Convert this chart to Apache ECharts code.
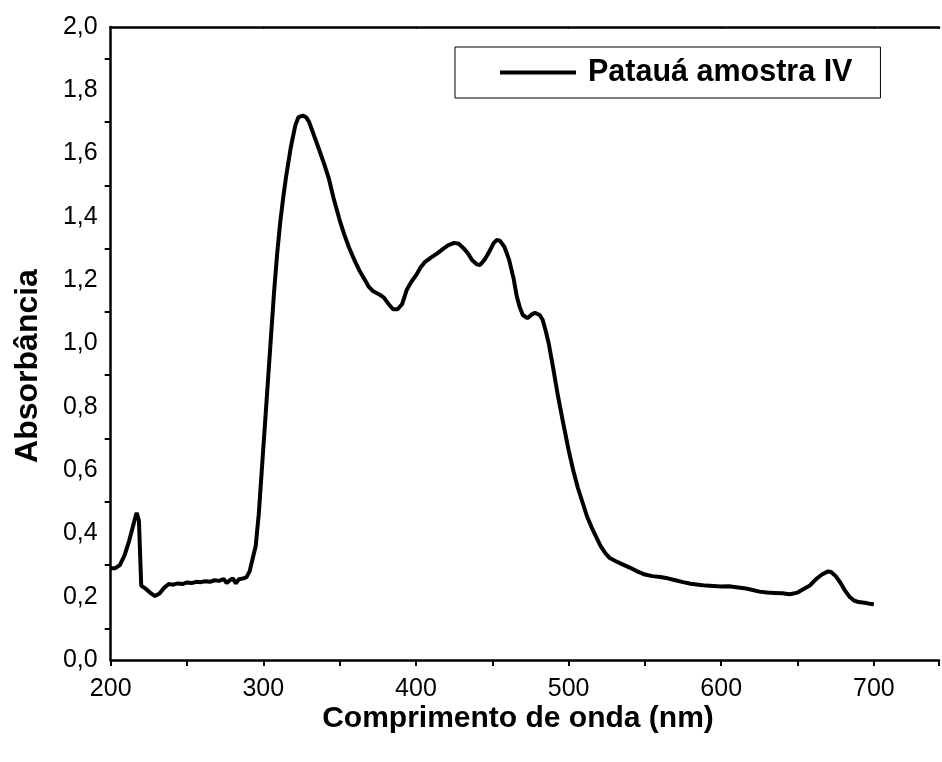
<!DOCTYPE html>
<html><head><meta charset="utf-8">
<script src="https://cdn.jsdelivr.net/npm/echarts@6/dist/echarts.min.js"></script>
<style>html,body{margin:0;padding:0;background:#fff}#c{width:942px;height:762px}</style>
</head><body><div id="c"></div>
<script>
const seriesName = 'Patauá amostra IV';
const xTitle = 'Comprimento de onda (nm)';
const yTitle = 'Absorbância';
const wavelength = [200,203,206,209,212,215,217,218.5,220,223,226,229,232,235,238,241,244,247,250,253,256,259,262,265,268,271,274,276,278,280,282,284,287,289,291,293,295,297,299,301,303,305,307,309,311,313,315,318,321,323,326,328,330,333,336,340,343,346,350,353,356,360,363,366,369,372,376,379,382,385,388,391,394,397,400,403,406,410,414,418,421,425,428,431,434,437,440,442,445,448,451,453,455,458,461,464,466,468,470,473,476,478,481,483,485,487,490,493,496,500,503,506,509,512,515,518,521,524,527,531,535,540,545,550,555,560,565,570,575,580,585,590,595,600,605,610,615,620,625,630,635,640,645,650,654,658,662,666,670,672,675,678,681,684,687,690,694,697,700];
const absorbance = [0.290,0.290,0.300,0.330,0.375,0.430,0.465,0.440,0.235,0.225,0.212,0.202,0.210,0.228,0.240,0.238,0.242,0.240,0.245,0.243,0.247,0.246,0.249,0.247,0.252,0.250,0.256,0.243,0.252,0.258,0.242,0.255,0.258,0.262,0.280,0.320,0.360,0.460,0.600,0.740,0.880,1.020,1.160,1.280,1.380,1.460,1.530,1.620,1.690,1.715,1.720,1.715,1.700,1.660,1.620,1.565,1.520,1.460,1.390,1.345,1.305,1.260,1.230,1.205,1.180,1.165,1.155,1.145,1.125,1.108,1.108,1.125,1.170,1.195,1.215,1.240,1.258,1.272,1.285,1.300,1.310,1.318,1.315,1.302,1.285,1.262,1.250,1.248,1.265,1.290,1.318,1.327,1.325,1.305,1.265,1.205,1.150,1.115,1.090,1.080,1.092,1.097,1.090,1.075,1.040,1.000,0.920,0.835,0.760,0.664,0.600,0.545,0.500,0.455,0.420,0.390,0.360,0.338,0.322,0.312,0.303,0.292,0.280,0.270,0.265,0.262,0.258,0.252,0.246,0.241,0.238,0.235,0.234,0.232,0.233,0.230,0.227,0.222,0.216,0.213,0.212,0.211,0.208,0.213,0.224,0.235,0.255,0.270,0.280,0.278,0.265,0.245,0.220,0.200,0.188,0.183,0.181,0.178,0.176];

const data = wavelength.map((x, i) => [x, absorbance[i]]);
const chart = echarts.init(document.getElementById('c'), null, {renderer: 'canvas'});
const font = 'Arial, "Liberation Sans", Helvetica, sans-serif';
const axisLine = {lineStyle: {color: '#000', width: 2.5}};
const xLabel = v => (Math.abs(v % 100) < 1e-6 ? String(v) : '');
chart.setOption({
  animation: false,
  backgroundColor: '#fff',
  grid: {left: 110.7, top: 27, right: 0, bottom: 102, containLabel: false},
  legend: {
    left: 455, top: 47,
    data: [seriesName],
    icon: 'rect', itemWidth: 76, itemHeight: 4,
    padding: [10, 28, 10, 45],
    borderColor: '#000', borderWidth: 1,
    textStyle: {fontFamily: font, fontWeight: 'bold', fontSize: 30.5, color: '#000', padding: [0, 0, 0, 7]},
    itemStyle: {color: '#000'}
  },
  xAxis: [{
    type: 'value', min: 200, max: 742.7, interval: 100,
    axisLine: axisLine,
    axisTick: {show: true, length: 6, lineStyle: {color: '#000', width: 2}},
    minorTick: {show: true, splitNumber: 2, length: 6, lineStyle: {color: '#000', width: 2}},
    splitLine: {show: false},
    axisLabel: {fontFamily: font, fontSize: 25, color: '#000', margin: 17, formatter: xLabel}
  }, {
    type: 'value', position: 'top', min: 200, max: 742.7, interval: 100,
    axisLine: axisLine,
    axisTick: {show: true, inside: true, length: 2, lineStyle: {color: '#000', width: 1}},
    splitLine: {show: false},
    axisLabel: {show: false}
  }],
  yAxis: {
    type: 'value', min: 0, max: 2, interval: 0.2,
    axisLine: axisLine,
    axisTick: {show: false},
    minorTick: {show: true, splitNumber: 2, length: 6, lineStyle: {color: '#000', width: 2}},
    splitLine: {show: false},
    axisLabel: {fontFamily: font, fontSize: 25, color: '#000', margin: 13,
      formatter: v => v.toFixed(1).replace('.', ',')}
  },
  graphic: [
    {type: 'text', x: 518, y: 719, style: {text: xTitle, font: 'bold 30px ' + font, fill: '#000', align: 'center', verticalAlign: 'middle'}},
    {type: 'text', x: 28, y: 366, rotation: Math.PI / 2, style: {text: yTitle, font: 'bold 32px ' + font, fill: '#000', align: 'center', verticalAlign: 'middle'}}
  ],
  series: [{
    name: seriesName, type: 'line', data: data, symbol: 'none', xAxisIndex: 0,
    lineStyle: {color: '#000', width: 4}, itemStyle: {color: '#000'}
  }]
});
</script></body></html>
